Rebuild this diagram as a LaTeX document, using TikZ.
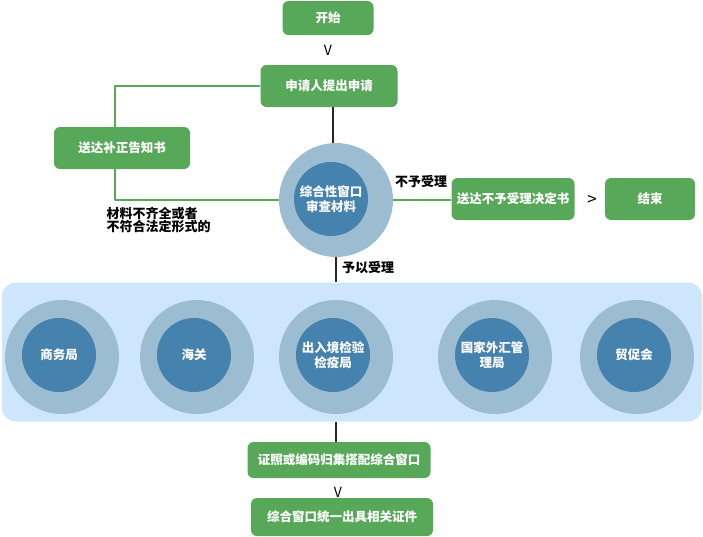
\documentclass[tikz,border=0pt]{standalone}
\usepackage{fontspec}
\newfontfamily\cjk{Noto Sans CJK SC}
\usetikzlibrary{positioning}
\definecolor{boxgreen}{RGB}{88,168,90}
\definecolor{ringblue}{RGB}{156,188,210}
\definecolor{coreblue}{RGB}{70,130,174}
\definecolor{panelblue}{RGB}{206,230,251}
\tikzset{
  stepbox/.style={draw=none,fill=boxgreen,rounded corners=6pt,text=white,
    font=\cjk\bfseries\fontsize{12.5}{15}\selectfont,align=center},
  ring/.style={circle,fill=ringblue,minimum size=114pt,inner sep=0pt},
  core/.style={circle,fill=coreblue,minimum size=74pt,inner sep=0pt,text=white,
    font=\cjk\bfseries\fontsize{12.5}{15}\selectfont,align=center},
  lbl/.style={font=\cjk\bfseries\fontsize{13}{15}\selectfont,text=black,align=left},
  sign/.style={font=\cjk\fontsize{14}{15}\selectfont,text=black},
  gline/.style={draw=boxgreen,line width=2.6pt},
  kline/.style={draw=black!85,line width=2.6pt}
}
\begin{document}
\begin{tikzpicture}[x=1pt,y=-1pt,line cap=butt,line join=round]
  \useasboundingbox (0,0) rectangle (703,536);

  % top of the flow
  \node[stepbox,minimum width=91pt,minimum height=34pt] (start) at (328,18) {开始};
  \node[sign] (v1) at (328,50) {V};
  \node[stepbox,minimum width=137pt,minimum height=42pt] (apply) at (329,86) {申请人提出申请};
  \node[stepbox,minimum width=136pt,minimum height=42pt] (notice) at (122,148) {送达补正告知书};

  % review window
  \node[ring] (review) at (336,200) {};
  \node[core] (reviewc) at (331,199) {综合性窗口\\审查材料};

  \node[stepbox,minimum width=123pt,minimum height=42pt] (refuse) at (513,199) {送达不予受理决定书};
  \node[sign,font=\cjk\fontsize{17}{17}\selectfont] (gt) at (592,200) {>};
  \node[stepbox,minimum width=90pt,minimum height=42pt] (finish) at (650,199) {结束};

  \node[lbl] (notok) at (421,182) {不予受理};
  \node[lbl,anchor=west] (lack) at (103,220) {材料不齐全或者\\[-2pt]不符合法定形式的};
  \node[lbl] (ok) at (368,268) {予以受理};

  % departments
  \node[fill=panelblue,rounded corners=14pt,minimum width=700pt,minimum height=139pt]
    (panel) at (352,352) {};
  \foreach \n/\cx/\txt in {1/62/商务局,2/197/海关,3/336/出入境检验\\检疫局,4/495/国家外汇管\\理局,5/637/贸促会}{
    \node[ring] (ob\n) at (\cx,357) {};
    \node[core] (ib\n) at (\cx-3,355) {\txt};
  }

  % bottom of the flow
  \node[stepbox,minimum width=183pt,minimum height=36pt] (collect) at (339,460) {证照或编码归集搭配综合窗口};
  \node[sign] (v2) at (338,492) {V};
  \node[stepbox,minimum width=182pt,minimum height=38pt] (issue) at (342,517) {综合窗口统一出具相关证件};

  % connectors
  \draw[gline] (apply.west) -| ([xshift=-7pt]notice.north);
  \draw[gline] ([xshift=-7pt]notice.south) |- (review.west);
  \draw[gline] (review.east) -- (review.east -| refuse.west);
  \draw[kline] ([xshift=4pt]apply.south) -- ([xshift=4pt]apply.south |- review.north);
  \draw[kline] (review.south) -- (review.south |- panel.north);
  \draw[kline] (ob3.center |- panel.south) -- (ob3.center |- collect.north);
\end{tikzpicture}
\end{document}
